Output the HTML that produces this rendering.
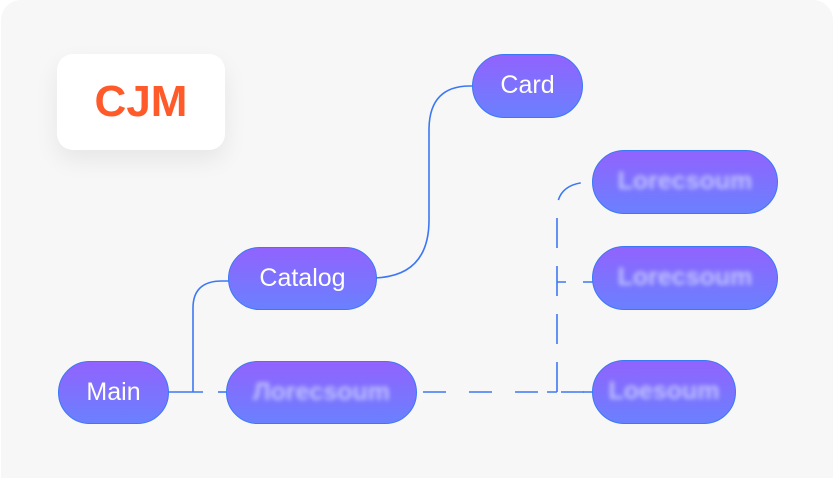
<!DOCTYPE html>
<html><head><style>
html,body{margin:0;padding:0;background:#fff;width:833px;height:478px;overflow:hidden;}
body{position:relative;font-family:"Liberation Sans",sans-serif;}
.panel{position:absolute;left:1px;top:0;width:832px;height:478px;background:#f7f7f7;border-radius:20px 20px 0 0;}
.logo{position:absolute;left:57px;top:54px;width:168px;height:96px;background:#fff;border-radius:16px;box-shadow:0 10px 24px rgba(0,0,0,0.07);}
.logo span{position:absolute;left:0;right:0;top:27px;text-align:center;font-weight:bold;font-size:44px;line-height:42px;color:#ff5a2a;}
.n{position:absolute;box-sizing:border-box;border:1.5px solid #3c78f4;border-radius:32px;background:linear-gradient(#9163fe,#6a80fe);color:#fff;font-size:25px;text-align:center;}
.n span{display:block;}
.b span{filter:blur(2.5px);color:#c0c2ff;font-weight:bold;}
svg{position:absolute;left:0;top:0;}
</style></head><body>
<div class="panel"></div>
<div class="logo"><span>CJM</span></div>
<svg width="833" height="478">
<g fill="none" stroke="#3c78f4" stroke-width="1.6">
<path d="M168 392 H203"/>
<path d="M193 392 V308 Q193 281 222 281 H230"/>
<path d="M371 278 Q429 278 429 220 V130 Q429 86 470 86 H474"/>
<path d="M218 392 H228"/>
<path d="M416 392 H592" stroke-dasharray="23 23" stroke-dashoffset="-7"/>
<path d="M557 392 V210 Q557 182 592 182" stroke-dasharray="30 18" stroke-dashoffset="0"/>
<path d="M557 282 H566 M583 282 H594"/>
<path d="M547 392 H557 M583 392 H594"/>
</g>
</svg>
<div class="n" style="left:58px;top:361px;width:111px;height:63px;line-height:60px;"><span>Main</span></div>
<div class="n b" style="left:226px;top:361px;width:191px;height:63px;line-height:60px;"><span>Лorecsoum</span></div>
<div class="n" style="left:228px;top:247px;width:149px;height:63px;line-height:60px;"><span>Catalog</span></div>
<div class="n" style="left:472px;top:54px;width:111px;height:64px;line-height:61px;"><span>Card</span></div>
<div class="n b" style="left:592px;top:150px;width:186px;height:64px;line-height:61px;"><span>Lorecsoum</span></div>
<div class="n b" style="left:592px;top:246px;width:186px;height:64px;line-height:61px;"><span>Lorecsoum</span></div>
<div class="n b" style="left:592px;top:360px;width:144px;height:64px;line-height:61px;"><span>Loesoum</span></div>
</body></html>
